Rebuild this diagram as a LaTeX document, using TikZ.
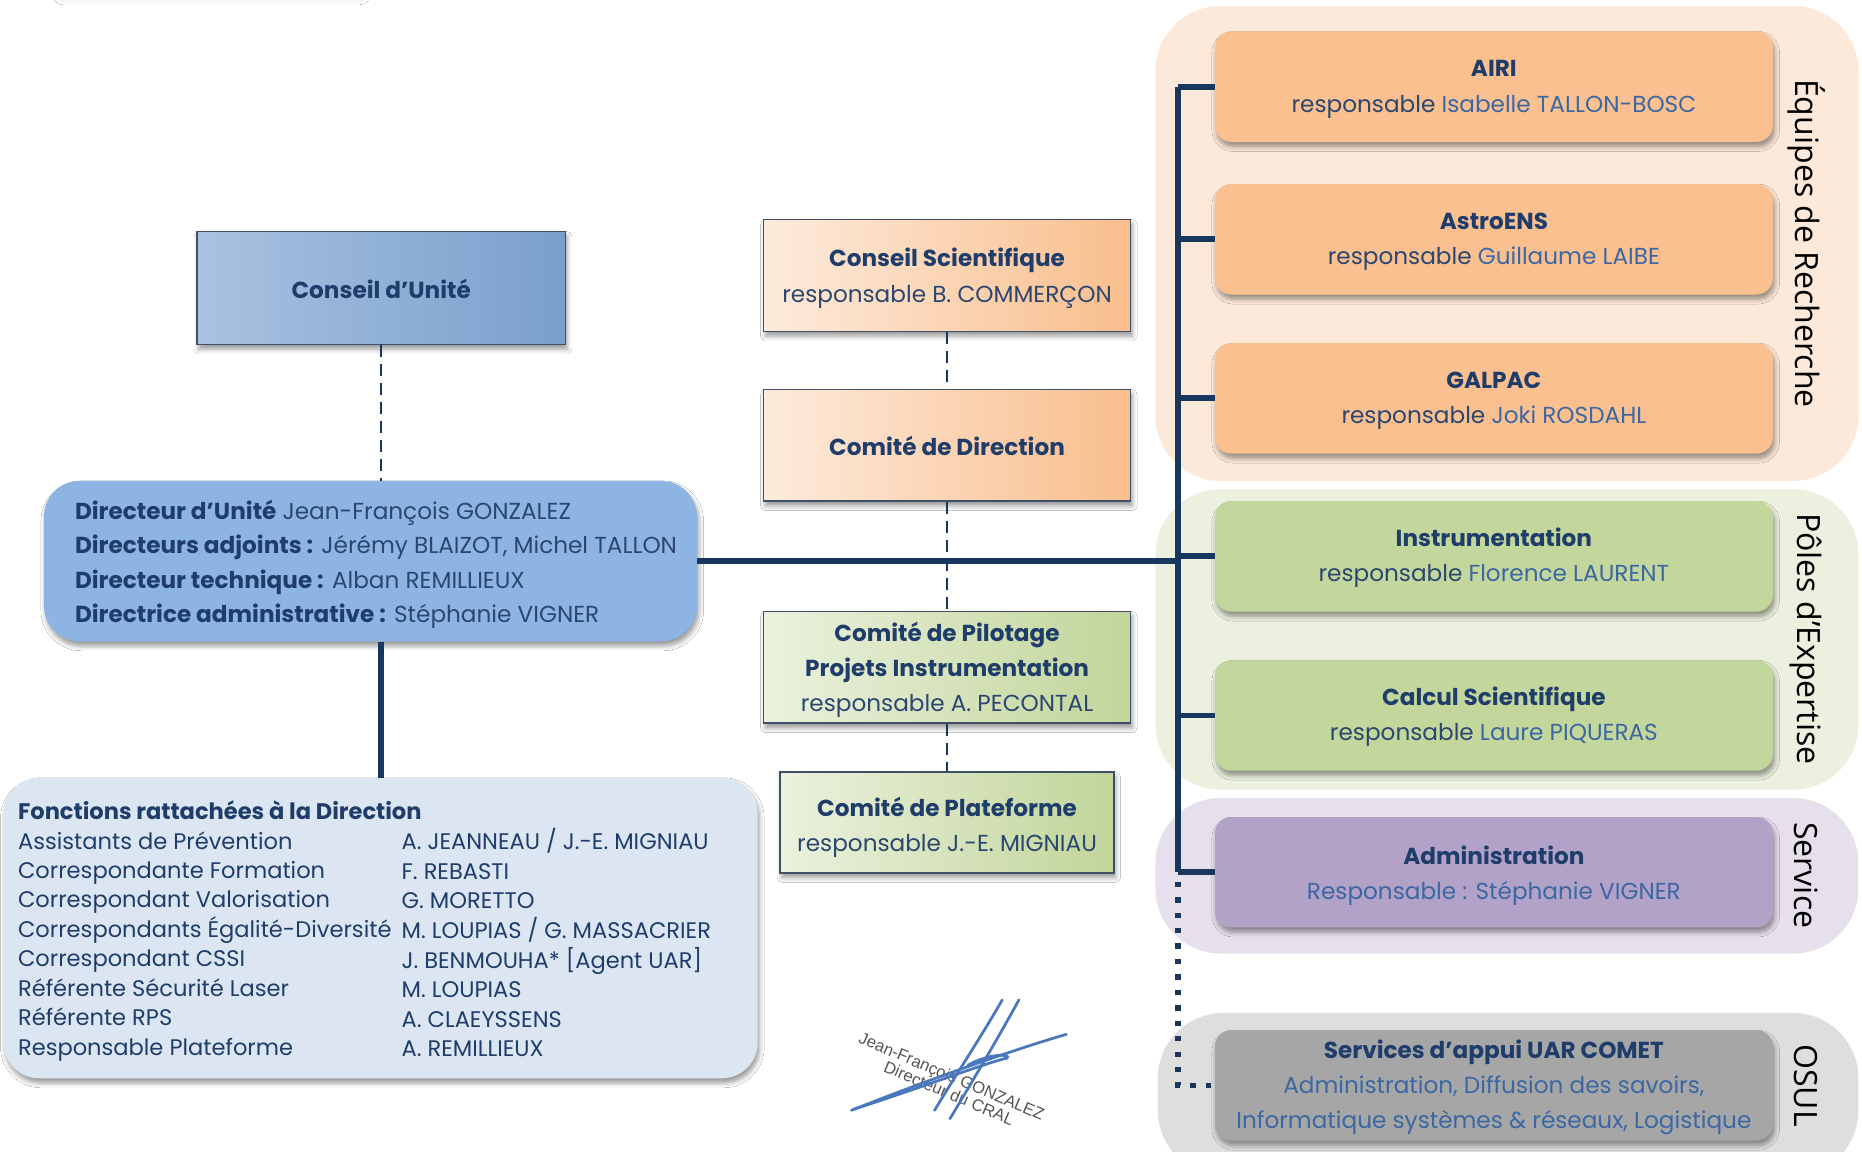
\documentclass[tikz,border=0pt]{standalone}
\usepackage{fontspec}
\setmainfont{Poppins}
\newfontfamily\labfont{Open Sans}
\newfontfamily\sigfont{Liberation Sans}
\usetikzlibrary{shadows.blur}
\definecolor{navy}{HTML}{1F3D6B}
\definecolor{bodyc}{HTML}{2B4770}
\definecolor{namec}{HTML}{3B67A3}
\definecolor{treec}{HTML}{17375E}
\definecolor{dirfill}{HTML}{8EB4E3}
\definecolor{fnfill}{HTML}{DCE6F2}
\definecolor{peachbox}{HTML}{FAC090}
\definecolor{peachbg}{HTML}{FDE9D9}
\definecolor{greenbox}{HTML}{C3D69B}
\definecolor{greenbg}{HTML}{EBF1DE}
\definecolor{lilacbox}{HTML}{B3A2C7}
\definecolor{lilacbg}{HTML}{E5E0EC}
\definecolor{graybox}{HTML}{A6A6A6}
\definecolor{graybg}{HTML}{DEDEDE}
\definecolor{cuL}{HTML}{A9C2E0}
\definecolor{cuR}{HTML}{7A9FCC}
\definecolor{csL}{HTML}{FDEBDC}
\definecolor{csR}{HTML}{F9BE8C}
\definecolor{cpL}{HTML}{EBF1DE}
\definecolor{cpR}{HTML}{C2D59A}
\definecolor{bordc}{HTML}{3F4F66}
\definecolor{sigblue}{HTML}{4A78BE}
\definecolor{siggray}{HTML}{555555}
\newcommand\fsA{\fontsize{19.5}{29.5}\selectfont}
\newcommand\fsD{\fontsize{19.5}{29}\selectfont}
\newcommand\fsF{\fontsize{19}{24.75}\selectfont}
\newcommand\nm[1]{\textcolor{namec}{#1}}
\newcommand\ttl[1]{\textbf{\textcolor{navy}{#1}}}
\newcommand\bx[1]{\begin{tabular}{@{}c@{}}#1\end{tabular}}
\begin{document}
\begin{tikzpicture}[x=1pt, y=-1pt,
  shad/.style={blur shadow={shadow xshift=1.5pt, shadow yshift=-4pt, shadow blur radius=4pt, shadow opacity=40}},
  grp/.style={rounded corners=55pt, inner sep=0pt},
  tbox/.style={rounded corners=14pt, minimum width=470pt, minimum height=93pt, inner sep=0pt, shad, font=\fsA, text=bodyc},
  mbox/.style={draw=bordc, line width=1.2pt, inner sep=0pt, shad, font=\fsA, text=bodyc},
  lab/.style={font=\labfont\fontsize{27}{32}\selectfont, text=black, rotate=-90, inner sep=0pt},
  tree/.style={draw=treec, line width=5pt},
  dashl/.style={draw=treec, line width=2pt, dash pattern=on 10pt off 6pt},
  dotl/.style={draw=treec, line width=4.5pt, dash pattern=on 4.5pt off 8.5pt},
  txt/.style={inner sep=0pt, anchor=north west},
  sigt/.style={font=\sigfont\fontsize{14}{16}\selectfont, text=siggray, inner sep=0pt, anchor=base west, rotate=-23},
  sigl/.style={draw=sigblue, line width=2.3pt, line cap=round}
]
\useasboundingbox (0,0) rectangle (1568,970);
\fill[white] (0,0) rectangle (1568,970);

% cut-off box shadow at top left
\node[fill=white, minimum width=250pt, minimum height=60pt, inner sep=0pt,
  blur shadow={shadow xshift=0pt, shadow yshift=-5pt, shadow blur radius=9pt, shadow opacity=22}] (ghost) at (178,-40) {};

% group backgrounds
\node[grp, fill=peachbg, minimum width=592pt, minimum height=400pt] (gER) at (1269,205) {};
\node[grp, fill=greenbg, minimum width=592pt, minimum height=253pt] (gPE) at (1269,538.5) {};
\node[grp, fill=lilacbg, minimum width=592pt, minimum height=131pt] (gS) at (1269,737.5) {};
\node[grp, fill=graybg, minimum width=590pt, minimum height=137pt] (gO) at (1270,921.5) {};

% side labels
\node[lab] (lER) at (1521,205) {Équipes de Recherche};
\node[lab] (lPE) at (1521,538) {Pôles d’Expertise};
\node[lab] (lS) at (1521,737) {Service};
\node[lab] (lO) at (1521,914) {OSUL};

% left column
\node[mbox, left color=cuL, right color=cuR, minimum width=310pt, minimum height=95pt] (cu) at (321,242.5) {\bx{\rule{0pt}{26pt}\ttl{Conseil d’Unité}}};
\node[fill=dirfill, rounded corners=30pt, minimum width=550pt, minimum height=135pt, inner sep=0pt, shad] (dir) at (312,472.5) {};
\node[txt, font=\fsD, text=navy] (dirtext) at (63,416.7) {\begin{tabular}{@{}l@{}}
\textbf{Directeur d’Unité} \textcolor{bodyc}{Jean-François GONZALEZ}\\
\textbf{Directeurs adjoints :} \textcolor{bodyc}{Jérémy BLAIZOT, Michel TALLON}\\
\textbf{Directeur technique :} \textcolor{bodyc}{Alban REMILLIEUX}\\
\textbf{Directrice administrative :} \textcolor{bodyc}{Stéphanie VIGNER}
\end{tabular}};

\node[fill=fnfill, rounded corners=30pt, minimum width=635pt, minimum height=253pt, inner sep=0pt, shad] (fn) at (320.5,781.5) {};
\node[txt, font=\fsF, text=navy] (fnL) at (15,672.7) {\begin{tabular}{@{}l@{}}
\textbf{Fonctions rattachées à la Direction}\\
Assistants de Prévention\\
Correspondante Formation\\
Correspondant Valorisation\\
Correspondants Égalité-Diversité\\
Correspondant CSSI\\
Référente Sécurité Laser\\
Référente RPS\\
Responsable Plateforme
\end{tabular}};
\node[txt, font=\fsF, text=navy] (fnR) at (338,697.45) {\begin{tabular}{@{}l@{}}
A. JEANNEAU / J.-E. MIGNIAU\\
F. REBASTI\\
G. MORETTO\\
M. LOUPIAS / G. MASSACRIER\\
J. BENMOUHA* [Agent UAR]\\
M. LOUPIAS\\
A. CLAEYSSENS\\
A. REMILLIEUX
\end{tabular}};

% middle column
\node[mbox, left color=csL, right color=csR, minimum width=309pt, minimum height=94pt] (cs) at (797.5,232)
  {\bx{\rule{0pt}{24pt}\ttl{Conseil Scientifique}\\responsable B. COMMERÇON}};
\node[mbox, left color=csL, right color=csR, minimum width=309pt, minimum height=94pt] (cd) at (797.5,375)
  {\bx{\rule{0pt}{26pt}\ttl{Comité de Direction}}};
\node[mbox, left color=cpL, right color=cpR, minimum width=309pt, minimum height=94pt] (cp) at (797.5,562)
  {\bx{\rule{0pt}{24pt}\ttl{Comité de Pilotage}\\\ttl{Projets Instrumentation}\\responsable A. PECONTAL}};
\node[mbox, left color=cpL, right color=cpR, minimum width=281pt, minimum height=85pt] (cpl) at (797.5,692.5)
  {\bx{\rule{0pt}{28pt}\ttl{Comité de Plateforme}\\responsable J.-E. MIGNIAU}};

% right column boxes
\node[tbox, fill=peachbox] (airi) at (1258,73) {\bx{\rule{0pt}{22pt}\ttl{AIRI}\\responsable \nm{Isabelle TALLON-BOSC}}};
\node[tbox, fill=peachbox] (astro) at (1258,201.5) {\bx{\rule{0pt}{22pt}\ttl{AstroENS}\\responsable \nm{Guillaume LAIBE}}};
\node[tbox, fill=peachbox] (galpac) at (1258,335.5) {\bx{\rule{0pt}{22pt}\ttl{GALPAC}\\responsable \nm{Joki ROSDAHL}}};
\node[tbox, fill=greenbox] (instr) at (1258,468.5) {\bx{\rule{0pt}{22pt}\ttl{Instrumentation}\\responsable \nm{Florence LAURENT}}};
\node[tbox, fill=greenbox] (calc) at (1258,602.5) {\bx{\rule{0pt}{22pt}\ttl{Calcul Scientifique}\\responsable \nm{Laure PIQUERAS}}};
\node[tbox, fill=lilacbox] (admin) at (1258,734.5) {\bx{\rule{0pt}{25pt}\ttl{Administration}\\\nm{Responsable : Stéphanie VIGNER}}};
\node[tbox, fill=graybox, text=namec] (comet) at (1258,914) {\bx{\rule{0pt}{23pt}\ttl{Services d’appui UAR COMET}\\Administration, Diffusion des savoirs,\\Informatique systèmes \& réseaux, Logistique}};

% connectors
\coordinate (tx) at (992,0);
\draw[dashl] (cu.south) -- (cu.south |- dir.north);
\draw[tree] (cu.south |- dir.south) -- (cu.south |- fn.north);
\draw[dashl] (cs.south) -- (cd.north);
\draw[dashl] (cd.south) -- (cp.north);
\draw[dashl] (cp.south) -- (cpl.north);
\draw[tree] (dir.east) -- (dir.east -| tx);
\draw[dotl] ([yshift=-8pt]admin.west -| tx) -- (comet.west -| tx) -- (comet.west);
\draw[tree] (airi.west -| tx) -- (admin.west -| tx);
\draw[tree] (airi.west -| tx) -- (airi.west);
\draw[tree] (astro.west -| tx) -- (astro.west);
\draw[tree] (galpac.west -| tx) -- (galpac.west);
\draw[tree] (instr.west -| tx) -- (instr.west);
\draw[tree] (calc.west -| tx) -- (calc.west);
\draw[tree] (admin.west -| tx) -- (admin.west);

% signature
\node[sigt] (sig1) at (722,878) {Jean-François GONZALEZ};
\node[sigt] (sig2) at (743,902) {Directeur du CRAL};
\draw[sigl] (717,935) .. controls (780,910) and (850,885) .. (898,871);
\draw[sigl] (719,934) .. controls (770,918) and (830,895) .. (848,891) .. controls (852,888) and (835,886) .. (815,897);
\draw[sigl] (844,842) .. controls (825,875) and (805,905) .. (787,935);
\draw[sigl] (858,842) .. controls (840,875) and (818,912) .. (800,942);
\end{tikzpicture}
\end{document}
